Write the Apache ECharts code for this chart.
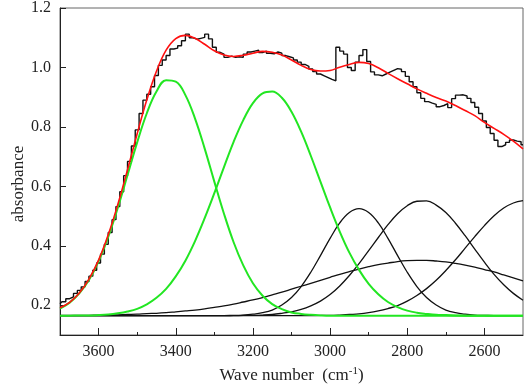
<!DOCTYPE html>
<html>
<head>
<meta charset="utf-8">
<script src="https://cdn.jsdelivr.net/npm/echarts@6/dist/echarts.min.js"></script>
<style>
  html, body { margin: 0; padding: 0; background: #fff; }
  #chart { width: 526px; height: 389px; }
</style>
</head>
<body>
<div id="chart"></div>
<script>
// sampling grids (wave number, cm-1)
function range(from, to, step) {
	var out = [];
	for (var w = from; w >= to; w -= step) out.push(w);
	return out;
}
var waveFit = range(3700, 2500, 25);   // fitted curves
var waveData = range(3700, 2500, 10);  // measured spectrum

// measured absorbance (stepped trace)
var measured = [
	0.205, 0.212, 0.222, 0.228, 0.240, 0.250, 0.262, 0.280, 0.298, 0.318, 0.342,
	0.372, 0.405, 0.445, 0.488, 0.532, 0.582, 0.636, 0.684, 0.736, 0.790,
	0.845, 0.890, 0.910, 0.935, 0.973, 1.007, 1.025, 1.040, 1.062, 1.065,
	1.073, 1.090, 1.112, 1.100, 1.095, 1.098, 1.101, 1.112, 1.096, 1.068,
	1.051, 1.045, 1.034, 1.038, 1.034, 1.036, 1.034, 1.045, 1.052, 1.055,
	1.058, 1.050, 1.055, 1.048, 1.046, 1.052, 1.048, 1.040, 1.036, 1.032,
	1.025, 1.018, 1.010, 1.004, 0.995, 0.986, 0.978, 0.972, 0.966, 0.960,
	0.955, 1.068, 1.055, 1.045, 1.000, 0.990, 1.018, 1.040, 1.060, 1.020,
	0.985, 0.975, 0.972, 0.978, 0.984, 0.990, 0.996, 0.994, 0.986, 0.970,
	0.952, 0.935, 0.915, 0.896, 0.885, 0.880, 0.876, 0.868, 0.872, 0.878,
	0.865, 0.895, 0.907, 0.908, 0.904, 0.896, 0.882, 0.866, 0.845, 0.820,
	0.798, 0.778, 0.755, 0.734, 0.740, 0.748, 0.756, 0.752, 0.750, 0.740
];

// total fit (red)
var fitTotal = [
	0.192, 0.210, 0.241, 0.288, 0.352, 0.437, 0.540, 0.656, 0.777, 0.891,
	0.987, 1.058, 1.097, 1.108, 1.098, 1.078, 1.056, 1.042, 1.037, 1.041,
	1.048, 1.054, 1.051, 1.042, 1.025, 1.007, 0.993, 0.988, 0.990, 1.001,
	1.010, 1.017, 1.013, 0.999, 0.980, 0.962, 0.945, 0.928, 0.913, 0.899,
	0.887, 0.872, 0.855, 0.838, 0.815, 0.795, 0.775, 0.752, 0.726
];

// green components
var peak3415 = [
	0.189, 0.209, 0.240, 0.285, 0.348, 0.430, 0.529, 0.638, 0.748, 0.846,
	0.919, 0.957, 0.952, 0.907, 0.828, 0.727, 0.616, 0.508, 0.412, 0.334,
	0.274, 0.232, 0.204, 0.187, 0.176, 0.171, 0.168, 0.166, 0.165, 0.165,
	0.165, 0.165, 0.165, 0.165, 0.165, 0.165, 0.165, 0.165, 0.165, 0.165,
	0.165, 0.165, 0.165, 0.165, 0.165, 0.165, 0.165, 0.165, 0.165
];
var peak3157 = [
	0.165, 0.165, 0.166, 0.166, 0.167, 0.169, 0.173, 0.179, 0.188, 0.203,
	0.225, 0.255, 0.297, 0.350, 0.416, 0.493, 0.577, 0.665, 0.750, 0.823,
	0.880, 0.913, 0.919, 0.898, 0.851, 0.784, 0.703, 0.616, 0.529, 0.448,
	0.377, 0.319, 0.272, 0.237, 0.211, 0.194, 0.182, 0.175, 0.171, 0.168,
	0.167, 0.166, 0.165, 0.165, 0.165, 0.165, 0.165, 0.165, 0.165
];

// black components
var peak2925 = [
	0.165, 0.165, 0.165, 0.165, 0.165, 0.165, 0.165, 0.165, 0.165, 0.165,
	0.165, 0.165, 0.165, 0.165, 0.165, 0.165, 0.165, 0.165, 0.166, 0.167,
	0.170, 0.175, 0.184, 0.201, 0.226, 0.263, 0.311, 0.367, 0.425, 0.477,
	0.512, 0.525, 0.512, 0.477, 0.425, 0.367, 0.311, 0.263, 0.226, 0.201,
	0.184, 0.175, 0.170, 0.167, 0.166, 0.165, 0.165, 0.165, 0.165
];
var peak2761 = [
	0.165, 0.165, 0.165, 0.165, 0.165, 0.165, 0.165, 0.165, 0.165, 0.165,
	0.165, 0.165, 0.165, 0.165, 0.165, 0.165, 0.165, 0.165, 0.165, 0.166,
	0.166, 0.167, 0.169, 0.173, 0.178, 0.186, 0.198, 0.214, 0.236, 0.265,
	0.300, 0.340, 0.384, 0.428, 0.471, 0.508, 0.535, 0.550, 0.551, 0.537,
	0.512, 0.476, 0.434, 0.389, 0.345, 0.304, 0.269, 0.240, 0.217
];
var peakBroad = [
	0.166, 0.166, 0.166, 0.166, 0.167, 0.167, 0.168, 0.169, 0.170, 0.172,
	0.173, 0.175, 0.178, 0.181, 0.184, 0.188, 0.193, 0.198, 0.204, 0.211,
	0.218, 0.226, 0.235, 0.244, 0.254, 0.264, 0.274, 0.284, 0.294, 0.304,
	0.313, 0.322, 0.330, 0.337, 0.342, 0.347, 0.350, 0.351, 0.351, 0.349,
	0.346, 0.341, 0.335, 0.328, 0.320, 0.312, 0.302, 0.292, 0.282
];
var peak2495 = [
	0.165, 0.165, 0.165, 0.165, 0.165, 0.165, 0.165, 0.165, 0.165, 0.165,
	0.165, 0.165, 0.165, 0.165, 0.165, 0.165, 0.165, 0.165, 0.165, 0.165,
	0.165, 0.165, 0.165, 0.165, 0.165, 0.165, 0.165, 0.166, 0.166, 0.167,
	0.169, 0.171, 0.175, 0.181, 0.189, 0.199, 0.214, 0.233, 0.256, 0.284,
	0.317, 0.353, 0.392, 0.431, 0.468, 0.501, 0.527, 0.544, 0.552
];

// tick labels
var xMajor = [3600, 3400, 3200, 3000, 2800, 2600];
var xMinor = [3500, 3300, 3100, 2900, 2700];
var yMajor = [0.2, 0.4, 0.6, 0.8, 1.0, 1.2];

function pairs(xs, ys) {
	return xs.map(function(x, i) { return [x, ys[i]]; });
}

function curve(ys, color, width, z) {
	return {
		type: 'line',
		data: pairs(waveFit, ys),
		smooth: 0.4,
		showSymbol: false,
		lineStyle: { color: color, width: width },
		z: z || 2
	};
}

var serif = 'Liberation Serif';
var chart = echarts.init(document.getElementById('chart'), null, { renderer: 'canvas' });

chart.setOption({
	backgroundColor: '#fff',
	animation: false,
	grid: {
		left: 60, right: 3, top: 8, bottom: 53,
		show: true, borderColor: '#666', borderWidth: 1
	},
	xAxis: [ {
		type: 'value',
		min: 2500, max: 3700,
		inverse: true,
		name: '{n|Wave number  (cm}{s|-1}{n|)}',
		nameLocation: 'middle',
		nameGap: 31,
		nameTextStyle: {
			rich: {
				n: { fontFamily: serif, fontSize: 17, color: '#222' },
				s: { fontFamily: serif, fontSize: 11, color: '#222', verticalAlign: 'top', padding: [0, 0, 8, 0] }
			}
		},
		splitLine: { show: false },
		axisLine: { onZero: false, lineStyle: { color: '#222', width: 1 } },
		axisTick: { inside: true, length: 7, customValues: xMajor, lineStyle: { color: '#222' } },
		axisLabel: {
			customValues: xMajor,
			fontFamily: serif, fontSize: 16, color: '#222', margin: 9,
			formatter: function(v) { return String(v); }
		}
	}, {
		type: 'value',
		min: 2500, max: 3700,
		inverse: true,
		position: 'bottom',
		splitLine: { show: false },
		axisLine: { show: false },
		axisTick: { inside: true, length: 3, customValues: xMinor, lineStyle: { color: '#222' } },
		axisLabel: { show: false }
	} ],
	yAxis: {
		type: 'value',
		min: 0.1, max: 1.2,
		splitLine: { show: false },
		axisLine: { onZero: false, lineStyle: { color: '#222', width: 1 } },
		axisTick: { inside: true, length: 6, customValues: yMajor, lineStyle: { color: '#222' } },
		axisLabel: {
			customValues: yMajor,
			fontFamily: serif, fontSize: 16, color: '#222', margin: 9,
			formatter: function(v) { return v.toFixed(1); }
		}
	},
	graphic: [ {
		type: 'text',
		x: 19, y: 184,
		rotation: Math.PI / 2,
		style: {
			text: 'absorbance',
			font: '17px "Liberation Serif"',
			fill: '#222',
			align: 'center',
			verticalAlign: 'middle'
		}
	} ],
	series: [
		curve(peakBroad, '#111', 1.3),
		curve(peak2925, '#111', 1.3),
		curve(peak2761, '#111', 1.3),
		curve(peak2495, '#111', 1.3),
		{
			type: 'line',
			data: pairs(waveData, measured),
			step: 'middle',
			showSymbol: false,
			lineStyle: { color: '#111', width: 1.4 },
			z: 3
		},
		curve(peak3415, '#22e622', 2, 4),
		curve(peak3157, '#22e622', 2, 4),
		curve(fitTotal, '#ff1010', 1.6, 5)
	]
});
</script>
</body>
</html>
